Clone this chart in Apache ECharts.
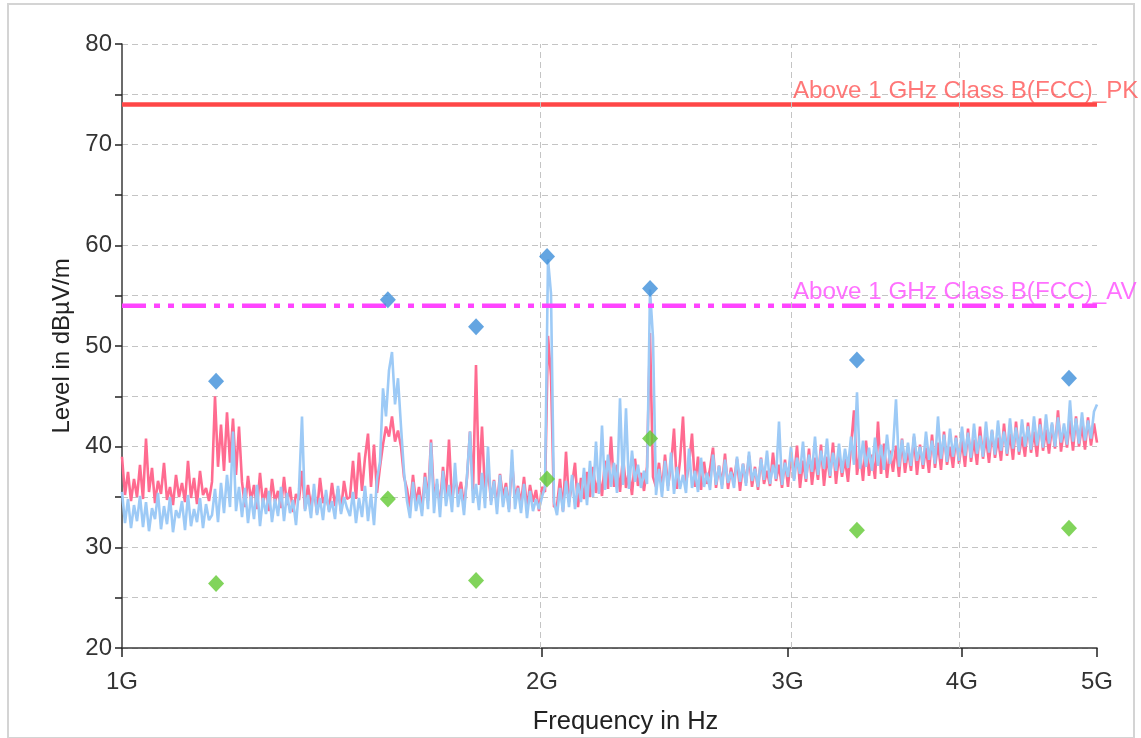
<!DOCTYPE html>
<html><head><meta charset="utf-8">
<script src="https://cdn.jsdelivr.net/npm/echarts@6/dist/echarts.min.js"></script>
<style>
html,body{margin:0;padding:0;background:#fff;}
#wrap{position:relative;width:1141px;height:738px;overflow:hidden;background:#fff;}
#frame{position:absolute;left:7px;top:3px;width:1124px;height:732px;border:2px solid #d4d4d4;}
#chart{position:absolute;left:0;top:0;width:1141px;height:738px;}
</style></head>
<body><div id="wrap"><div id="frame"></div><div id="chart"></div></div>
<script>
// ---- data ----
const FREQ_START_GHZ = 1;
const FREQ_STOP_GHZ = 5;
// trace 1 (pink), log-spaced sweep from 1 GHz to 5 GHz
const tracePink = [
39.0,35.2,37.5,34.6,36.8,35.0,38.2,34.8,40.8,35.5,
37.9,34.4,36.6,35.3,38.4,34.7,36.0,34.2,37.2,35.0,
36.4,34.5,38.6,34.9,36.9,34.3,37.6,35.2,35.9,34.6,
36.5,45.0,38.0,42.2,37.6,43.4,38.4,42.8,37.2,42.0,
36.5,34.0,37.1,34.6,36.2,33.8,37.4,34.3,35.9,33.6,
36.8,34.5,35.6,33.9,37.0,34.2,36.0,33.5,35.3,34.7,
37.6,33.8,36.2,34.0,35.7,33.4,36.9,34.4,35.2,33.7,
36.4,34.1,35.8,33.6,36.6,34.8,35.0,38.6,34.8,39.4,
35.6,38.9,41.3,36.0,40.2,35.4,38.0,40.2,42.0,41.0,
43.0,40.5,41.6,40.0,37.0,35.8,33.9,37.2,34.4,36.0,
33.7,37.4,34.6,40.7,35.0,36.3,34.2,38.0,35.1,40.7,
34.5,37.0,35.3,36.5,34.0,36.9,41.5,35.6,48.1,36.2,
42.0,35.4,37.8,34.6,36.7,34.1,37.3,35.0,36.4,33.8,
38.5,34.9,36.1,34.3,37.0,33.9,36.2,34.5,35.7,33.6,
36.0,35.5,51.0,47.0,34.0,34.2,36.8,33.6,39.5,34.5,
36.2,38.4,34.0,36.9,34.8,37.5,35.0,38.0,35.4,37.2,
35.1,38.6,35.8,41.0,36.0,38.2,35.5,39.0,35.9,37.6,
35.2,38.8,36.1,37.4,35.6,38.0,51.3,37.0,36.0,38.4,
35.6,39.2,36.1,38.0,41.8,35.8,38.6,43.0,36.4,38.2,
41.3,36.0,39.0,35.7,38.5,36.3,37.8,39.9,35.9,38.1,
36.2,39.3,35.8,37.9,36.5,38.8,35.6,38.3,36.4,39.1,
36.0,38.0,35.7,38.9,36.3,37.6,36.1,39.4,36.6,38.2,
35.9,38.7,36.0,39.4,36.8,40.1,35.9,38.6,36.5,39.8,
36.2,38.9,36.7,40.2,36.1,39.0,36.9,40.4,36.3,39.3,
37.0,38.8,36.5,40.0,43.6,37.2,39.5,36.6,40.6,37.1,
39.2,36.8,42.5,37.3,40.3,36.9,39.6,37.5,40.1,37.0,
40.8,37.4,39.7,37.6,41.0,37.2,40.2,37.8,39.9,37.4,
41.2,37.9,40.4,37.7,41.5,38.2,40.0,37.9,41.1,38.3,
40.6,38.0,41.8,38.5,40.7,38.2,42.0,38.8,41.0,38.4,
41.6,38.9,40.9,38.6,42.3,39.1,41.3,38.7,42.5,39.2,
41.0,39.0,42.4,39.4,41.5,39.0,42.8,39.6,41.7,39.3,
42.2,39.8,43.6,39.5,41.9,39.9,42.6,39.6,43.0,40.0,
42.1,39.7,42.9,40.1,42.3,40.4
];
// trace 2 (light blue)
const traceBlue = [
35.5,32.4,34.8,31.9,34.2,32.6,35.1,32.0,34.5,31.6,
33.9,32.8,35.4,31.8,34.1,32.3,35.0,31.5,33.7,32.9,
34.6,31.7,35.2,32.1,33.8,32.5,34.9,31.9,34.3,32.7,
33.2,35.8,32.5,36.4,33.4,37.2,34.0,41.5,33.6,36.0,
33.0,35.9,32.4,35.1,32.8,36.2,32.1,34.9,33.3,35.6,
32.5,34.8,33.1,36.0,32.6,35.4,33.4,34.7,32.2,35.8,
43.0,33.6,35.2,32.9,36.3,33.2,34.9,32.7,35.7,33.5,
34.6,32.8,36.1,33.3,35.0,33.9,33.1,35.5,32.4,34.9,
33.0,36.1,32.6,35.3,32.2,36.8,38.5,45.8,43.0,47.6,
49.4,44.2,46.8,42.0,37.5,34.6,32.9,36.5,33.6,35.2,
33.1,37.0,33.8,40.4,33.4,36.8,33.0,37.6,34.1,36.2,
33.5,38.4,34.0,35.8,33.2,37.1,41.5,34.4,36.3,33.7,
37.4,33.9,40.0,34.2,36.6,33.3,37.2,34.0,36.0,33.5,
39.7,33.8,35.9,33.4,36.3,32.9,35.6,33.6,34.8,33.8,
35.0,36.0,58.6,55.2,34.5,33.2,35.9,33.5,36.6,34.0,
37.2,33.8,36.4,34.5,37.9,34.2,38.6,35.0,40.5,35.3,
42.1,35.7,39.2,36.0,38.4,35.4,44.8,36.2,43.8,35.8,
39.6,36.5,38.2,35.9,37.6,36.3,55.6,50.8,35.2,37.8,
35.0,38.6,35.6,39.4,35.3,38.0,35.8,37.2,35.4,39.8,
35.9,37.6,35.5,38.9,36.0,37.4,35.7,39.2,36.2,38.1,
35.8,38.7,36.4,37.5,35.9,39.0,36.5,38.3,36.1,39.5,
36.6,37.8,36.0,38.8,36.7,39.6,36.3,38.2,36.8,42.5,
36.2,38.4,37.0,40.0,36.6,38.9,37.3,40.5,36.8,39.2,
37.5,41.0,37.2,39.6,37.8,40.8,37.1,39.4,37.6,40.3,
37.4,39.8,37.9,41.0,38.2,45.4,37.8,40.6,38.0,39.9,
37.6,40.9,38.1,40.2,37.7,41.2,38.3,39.8,44.7,38.0,
40.7,38.4,40.4,38.1,41.3,38.6,40.0,38.2,41.5,38.7,
40.6,38.3,43.0,38.8,41.2,38.5,41.8,39.0,40.9,38.6,
42.0,39.1,41.4,38.9,42.3,39.3,41.1,39.0,42.5,39.4,
41.7,39.2,42.6,39.6,41.5,39.3,42.8,39.8,41.9,39.5,
42.7,40.0,42.0,39.7,43.0,40.1,42.2,39.9,43.2,40.3,
42.4,40.0,42.9,40.4,42.3,40.2,44.6,40.5,42.8,40.3,
43.4,40.6,42.6,40.8,43.5,44.2
];
// final measurement markers
const markerFreqGHz = [1.168, 1.551, 1.794, 2.017, 2.391, 3.364, 4.774];
const markerPK      = [46.5, 54.6, 51.9, 58.9, 55.7, 48.6, 46.8];
const markerAV      = [26.4, 34.8, 26.7, 36.8, 40.8, 31.7, 31.9];
// limits
const limitPK = 74;
const limitAV = 54;
const limitPKName = 'Above 1 GHz Class B(FCC)_PK';
const limitAVName = 'Above 1 GHz Class B(FCC)_AV';
const limitLabelGHz = 3.027;
// axes
const xTickGHz = [1, 2, 3, 4, 5];
const xTickLabels = ['1G', '2G', '3G', '4G', '5G'];
const xGridGHz = [2, 3, 4, 5];

// ---- build ----
const lg = v => Math.log10(v);
function sweep(arr) {
  const a = lg(FREQ_START_GHZ), b = lg(FREQ_STOP_GHZ), n = arr.length;
  return arr.map((v, i) => [a + (b - a) * i / (n - 1), v]);
}
const FONT = '"Liberation Sans", Arial, sans-serif';
const xTickVals = xTickGHz.map(lg);

const chart = echarts.init(document.getElementById('chart'), null, {renderer: 'canvas'});
chart.setOption({
  animation: false,
  backgroundColor: 'transparent',
  grid: {left: 122, right: 44, top: 44, bottom: 90, containLabel: false, outerBoundsMode: 'none'},
  xAxis: {
    type: 'value', min: lg(FREQ_START_GHZ), max: lg(FREQ_STOP_GHZ),
    name: 'Frequency in Hz', nameLocation: 'middle', nameGap: 61,
    nameTextStyle: {fontFamily: FONT, fontSize: 25.5, color: '#222', padding: [0, 0, 0, 32]},
    axisLine: {show: true, onZero: false, lineStyle: {color: '#3a3a3a', width: 1.5}},
    axisTick: {show: true, customValues: xTickVals, length: 9, lineStyle: {color: '#222', width: 1.5}},
    axisLabel: {
      customValues: xTickVals, margin: 22, fontFamily: FONT, fontSize: 24, color: '#333',
      formatter: v => { let k = 0, d = 1e9; xTickVals.forEach((t, i) => { if (Math.abs(t - v) < d) { d = Math.abs(t - v); k = i; } }); return xTickLabels[k]; }
    },
    splitLine: {show: false}
  },
  yAxis: {
    type: 'value', min: 20, max: 80, interval: 10,
    name: 'Level in dBµV/m', nameLocation: 'middle', nameGap: 48,
    nameTextStyle: {fontFamily: FONT, fontSize: 24, color: '#222'},
    axisLine: {show: true, lineStyle: {color: '#3a3a3a', width: 1.5}},
    axisTick: {show: true, length: 7, lineStyle: {color: '#222', width: 1.5}},
    minorTick: {show: true, splitNumber: 2, length: 7, lineStyle: {color: '#222', width: 1.5}},
    axisLabel: {margin: 10, fontFamily: FONT, fontSize: 24, color: '#333'},
    splitLine: {show: true, lineStyle: {color: '#c4c4c4', type: [6, 4], width: 1}},
    minorSplitLine: {show: true, lineStyle: {color: '#c4c4c4', type: [6, 4], width: 1}}
  },
  series: [
    {
      type: 'line', data: sweep(tracePink), showSymbol: false, symbol: 'none', z: 2,
      lineStyle: {color: '#ff6b90', width: 2.6}, itemStyle: {color: '#ff6b90'},
      markLine: {
        silent: true, symbol: ['none', 'none'], label: {show: false},
        lineStyle: {color: '#c4c4c4', type: [6, 4], width: 1},
        data: xGridGHz.map(g => ({xAxis: lg(g)}))
      }
    },
    {
      type: 'line', data: sweep(traceBlue), showSymbol: false, symbol: 'none', z: 3,
      lineStyle: {color: '#9dcaf6', width: 2.6}, itemStyle: {color: '#9dcaf6'}
    },
    {
      type: 'line', data: [[lg(FREQ_START_GHZ), limitPK], [lg(FREQ_STOP_GHZ), limitPK]],
      showSymbol: false, symbol: 'none', z: 4,
      lineStyle: {color: '#ff4747', width: 4.5}
    },
    {
      type: 'line', data: [[lg(FREQ_START_GHZ), limitAV], [lg(FREQ_STOP_GHZ), limitAV]],
      showSymbol: false, symbol: 'none', z: 4,
      lineStyle: {color: '#ff44ff', width: 4.5, type: [24, 8, 6, 8, 6, 8]}
    },
    {
      type: 'scatter', symbol: 'diamond', symbolSize: [16, 17], z: 6,
      itemStyle: {color: '#3d8fd9'},
      data: markerFreqGHz.map((f, i) => [lg(f), markerPK[i]])
    },
    {
      type: 'scatter', symbol: 'diamond', symbolSize: [16, 17], z: 6,
      itemStyle: {color: '#62c932'},
      data: markerFreqGHz.map((f, i) => [lg(f), markerAV[i]])
    },
    {
      type: 'scatter', symbolSize: 2, z: 7, silent: true, clip: false,
      itemStyle: {color: 'rgba(255,255,255,0)'},
      label: {show: true, position: 'right', distance: 0, offset: [-1, -13],
        fontFamily: FONT, fontSize: 24.2, formatter: p => p.value[2]},
      data: [
        {value: [lg(limitLabelGHz), limitPK, limitPKName], label: {color: '#ff5555'}},
        {value: [lg(limitLabelGHz), limitAV, limitAVName], label: {color: '#ff4cff'}}
      ]
    }
  ]
});
</script></body></html>
